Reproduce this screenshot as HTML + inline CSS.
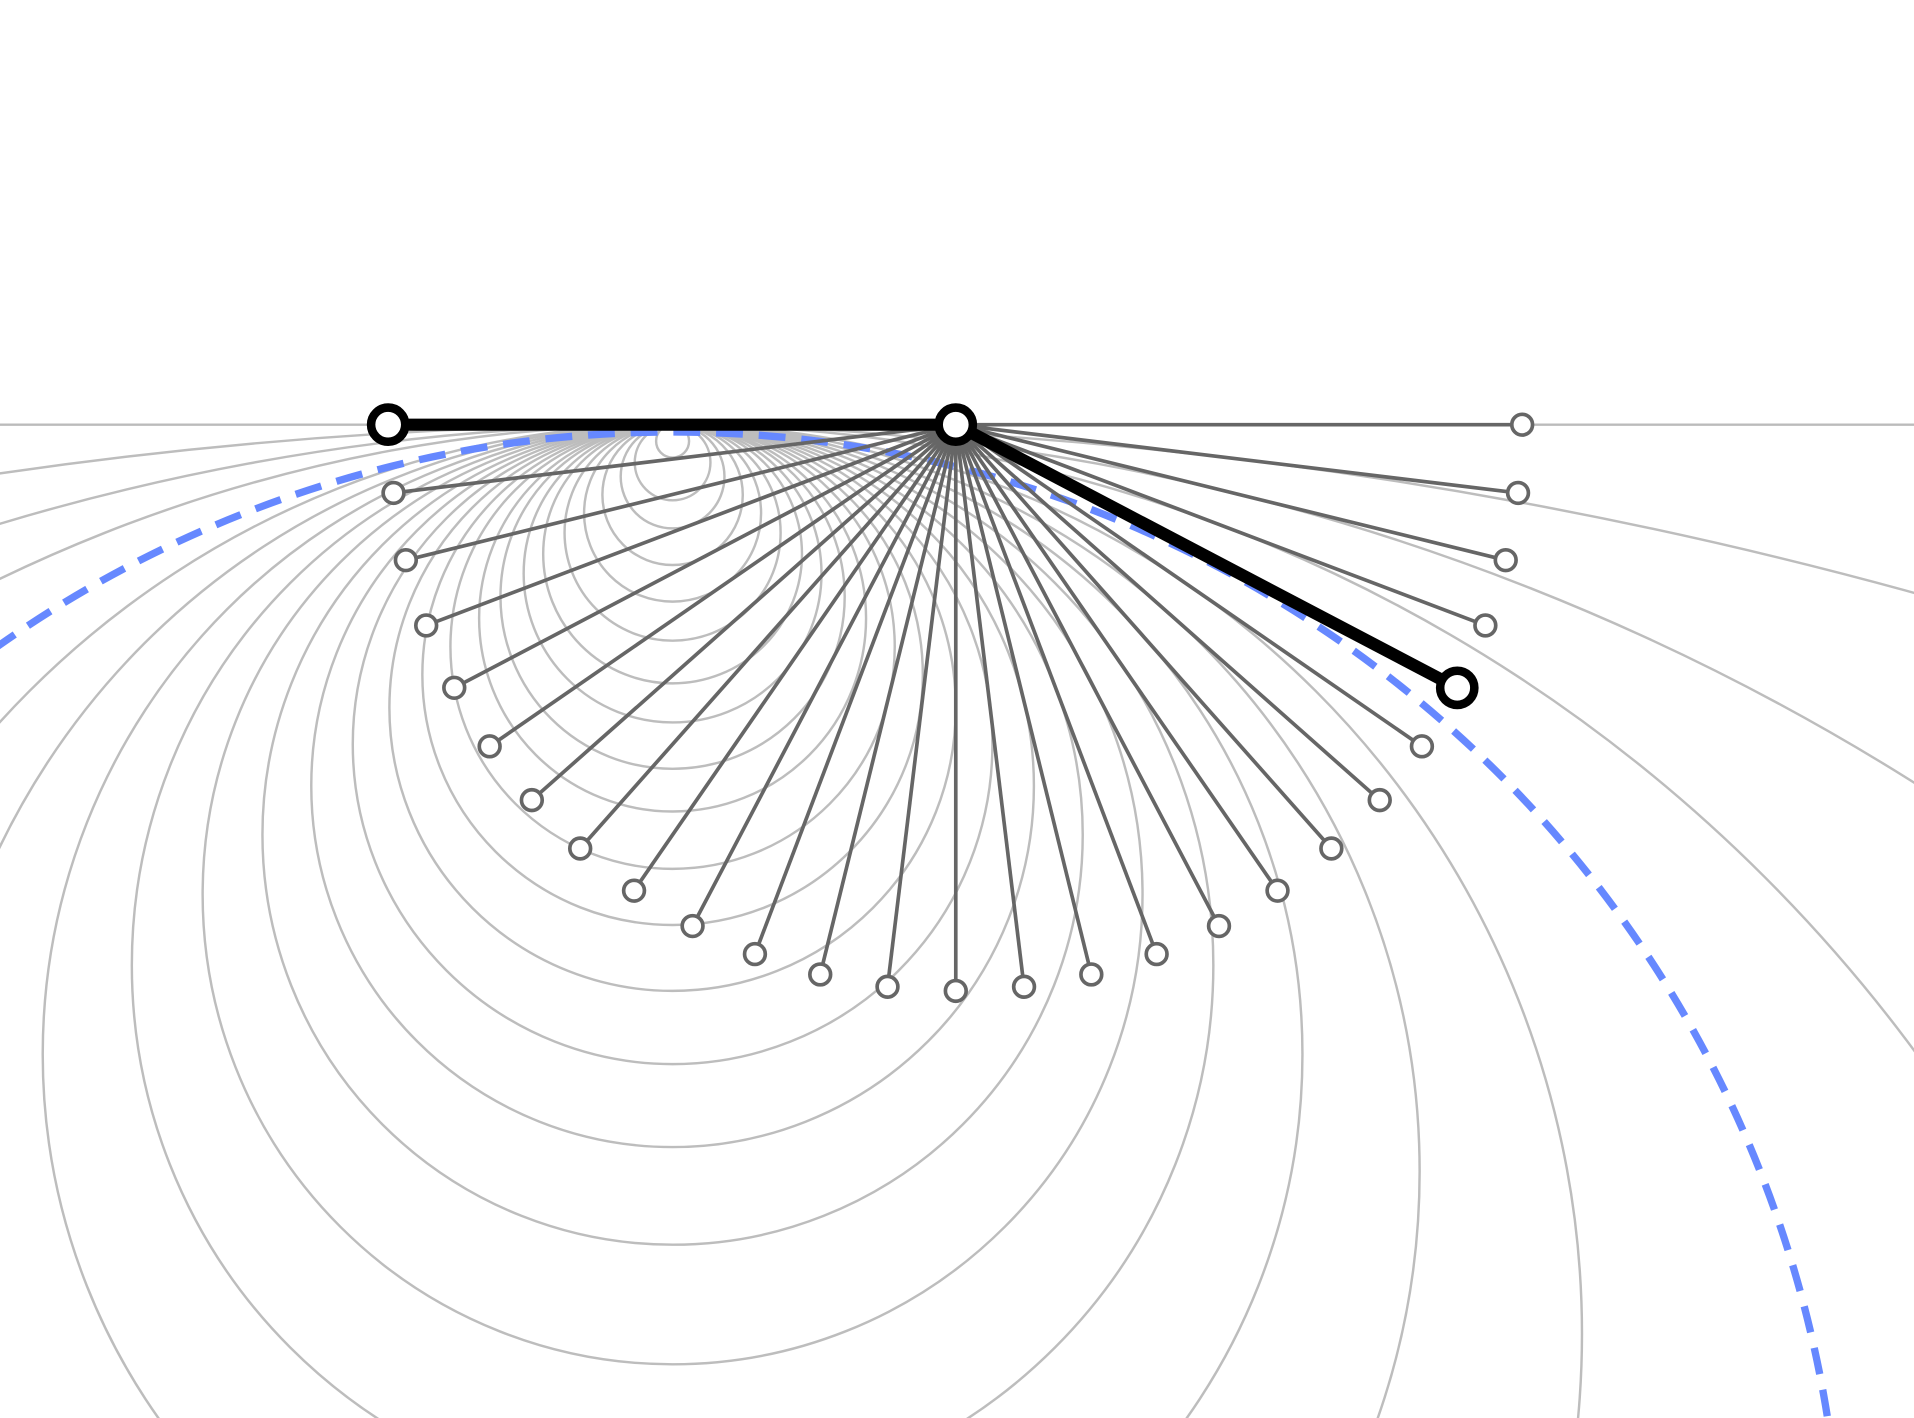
<!DOCTYPE html>
<html><head><meta charset="utf-8"><style>
html,body{margin:0;padding:0;background:#fff;overflow:hidden;width:1914px;height:1418px}
svg{display:block}
</style></head><body>
<svg id="chart" width="1914" height="1418" viewBox="0 0 1568 1162" preserveAspectRatio="none" xmlns="http://www.w3.org/2000/svg">
<g id="circles"></g>
<line x1="0" y1="348" x2="1568" y2="348" stroke="#bbb" stroke-width="2"/>
<g id="dash"></g>
<g id="rays"></g>
<g id="main"></g>
</svg>
<script>
const circleRadii = [13.5, 31, 42.5, 57.5, 72.5, 88.5, 106, 122, 141, 158.5, 182, 205, 232, 262, 296, 336, 385, 443, 516, 612, 745, 1265, 1910, 3820];
const rayAngles = [0, 6.923, 13.846, 20.769, 27.692, 34.615, 41.538, 48.462, 55.385, 62.308, 69.231, 76.154, 83.077, 90, 96.923, 103.846, 110.769, 117.692, 124.615, 131.538, 138.462, 145.385, 152.308, 159.231, 166.154, 173.077];
const armLength = [464];
const mainArmAngle = [27.7];
const reachRadius = [958];

const NS = 'http://www.w3.org/2000/svg';
const A = {x:318, y:348}, B = {x:783, y:348}, M = {x:551, y:348};
function mk(tag, attrs, parent){ const e=document.createElementNS(NS,tag); for(const k in attrs) e.setAttribute(k,attrs[k]); parent.appendChild(e); return e; }
function px(angle, len){ return B.x + len*Math.cos(angle*Math.PI/180); }
function py(angle, len){ return B.y + len*Math.sin(angle*Math.PI/180); }

const cg = document.getElementById('circles');
circleRadii.forEach(r=>{
  const c = mk('circle',{cx:M.x, cy:M.y+r, r:r, fill:'none', stroke:'#bdbdbd', 'stroke-width':2}, cg);
  
  
});

const dg = document.getElementById('dash');
const R = reachRadius[0];
const dc = mk('circle',{cx:M.x, cy:354+R, r:R, fill:'none', stroke:'#6688ff', 'stroke-width':6, 'stroke-dasharray':'22 13'}, dg);



const rg = document.getElementById('rays');
const L = armLength[0];
rayAngles.forEach(a=>{
  const x = px(a,L), y = py(a,L);
  const ln = mk('line',{x1:B.x, y1:B.y, x2:x, y2:y, stroke:'#666', 'stroke-width':3}, rg);
  
  
});
rayAngles.forEach(a=>{
  const x = px(a,L), y = py(a,L);
  const p = mk('circle',{cx:x, cy:y, r:8.5, fill:'#fff', stroke:'#666', 'stroke-width':3}, rg);
  
  
});

const mg = document.getElementById('main');
const ex = px(mainArmAngle[0], L), ey = py(mainArmAngle[0], L);
const l1 = mk('line',{x1:A.x, y1:A.y, x2:B.x, y2:B.y, stroke:'#000', 'stroke-width':10}, mg);


const l2 = mk('line',{x1:B.x, y1:B.y, x2:ex, y2:ey, stroke:'#000', 'stroke-width':10}, mg);


[[A.x,A.y,'joint-a'],[B.x,B.y,'joint-b'],[ex,ey,'arm-end-handle']].forEach(p=>{
  const c = mk('circle',{cx:p[0], cy:p[1], r:14, fill:'#fff', stroke:'#000', 'stroke-width':7}, mg);
  
  
});
</script>
</body></html>
